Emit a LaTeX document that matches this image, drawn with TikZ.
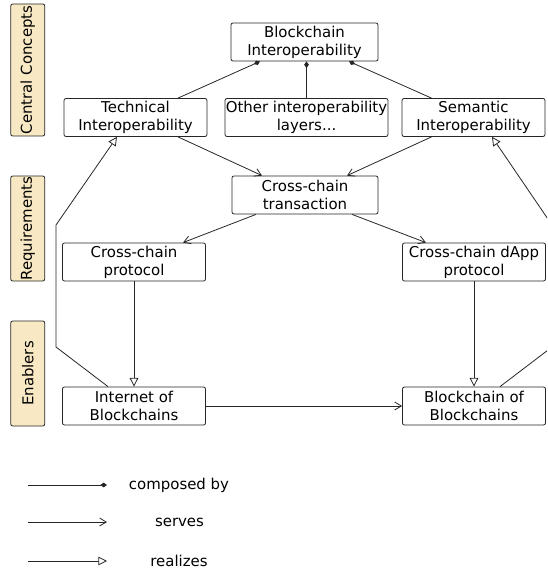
\documentclass[tikz,border=0pt]{standalone}
\usepackage{fontspec}
\setmainfont{DejaVu Sans}
\usetikzlibrary{arrows.meta,calc}
\definecolor{layerfill}{RGB}{248,233,196}
\tikzset{
  concept/.style={draw=black!85, line width=0.6pt, rounded corners=1.5pt, fill=white,
    minimum width=107.25pt, minimum height=28.5pt, inner sep=0pt, align=center,
    font=\fontsize{11.2}{13.5}\selectfont},
  layer/.style={draw=black!85, line width=0.6pt, rounded corners=1.5pt, fill=layerfill,
    rotate=90, minimum height=25.5pt, inner sep=0pt,
    font=\fontsize{11.2}{13.5}\selectfont},
  legendtext/.style={inner sep=0pt, font=\fontsize{11.2}{13.5}\selectfont},
  link/.style={draw=black!85, line width=0.6pt},
  composed/.style={link, -{Diamond[length=5pt,width=3.5pt]}},
  serves/.style={link, -{Straight Barb[length=5pt,width=6pt]}},
  realizes/.style={link, -{Triangle[open,length=6.5pt,width=6.5pt,fill=white]}}
}
\begin{document}
\begin{tikzpicture}[x=0.75pt,y=-0.75pt]
  \useasboundingbox (0,0) rectangle (547,574);
  \clip (0,0) rectangle (547,574);

  % layers
  \node[layer, minimum width=99pt] (central) at (27.75,70) {Central Concepts};
  \node[layer, minimum width=78.75pt] (requirements) at (27.75,228.5) {Requirements};
  \node[layer, minimum width=78.75pt] (enablers) at (27.75,373.5) {Enablers};

  % concepts
  \node[concept, minimum width=110.25pt] (bi) at (304.5,42) {Blockchain\\Interoperability};
  \node[concept] (ti) at (135.5,117.5) {Technical\\Interoperability};
  \node[concept, minimum width=122.25pt] (other) at (306.5,117.5) {Other interoperability\\layers...};
  \node[concept] (si) at (473.5,117.5) {Semantic\\Interoperability};
  \node[concept, minimum width=109.5pt] (cct) at (305,195) {Cross-chain\\transaction};
  \node[concept] (ccp) at (134,262) {Cross-chain\\protocol};
  \node[concept] (dapp) at (474,262) {Cross-chain dApp\\protocol};
  \node[concept] (iob) at (134,406) {Internet of\\Blockchains};
  \node[concept] (bob) at (474,406) {Blockchain of\\Blockchains};

  % composed by
  \draw[composed] ($(ti.north)+(42.5,0)$) -- ($(bi.south)+(-44.5,0)$);
  \draw[composed] (other.north) -- (other.north |- bi.south);
  \draw[composed] ($(si.north)+(-42,0)$) -- ($(bi.south)+(44.5,0)$);

  % serves
  \draw[serves] ($(ti.south)+(42.5,0)$) -- ($(cct.north)+(-43,0)$);
  \draw[serves] ($(si.south)+(-42,0)$) -- ($(cct.north)+(42,0)$);
  \draw[serves] ($(cct.south)+(-49,0)$) -- ($(ccp.north)+(49,0)$);
  \draw[serves] ($(cct.south)+(47,0)$) -- ($(dapp.north)+(-48,0)$);
  \draw[serves] (iob.east) -- (bob.west);

  % realizes
  \draw[realizes] (ccp) -- (iob);
  \draw[realizes] (dapp) -- (bob);
  \draw[realizes] ($(iob.north)+(-26,0)$) -- (56,347) -- (56,225) -- ($(ti.south)+(-18.5,0)$);
  \draw[realizes] ($(bob.north)+(26,0)$) -- (552,347) -- (552,225) -- ($(si.south)+(18.5,0)$);

  % legend
  \coordinate (c0) at (28,485);
  \coordinate (c1) at (107,485);
  \coordinate (s0) at (28,522);
  \coordinate (s1) at (107,522);
  \coordinate (r0) at (28,561);
  \coordinate (r1) at (107,561);
  \draw[composed] (c0) -- (c1);
  \draw[serves] (s0) -- (s1);
  \draw[realizes] (r0) -- (r1);
  \node[legendtext] (lcomposed) at (179,485) {composed by};
  \node[legendtext] (lserves) at (179.5,522) {serves};
  \node[legendtext] (lrealizes) at (179,561) {realizes};
\end{tikzpicture}
\end{document}
